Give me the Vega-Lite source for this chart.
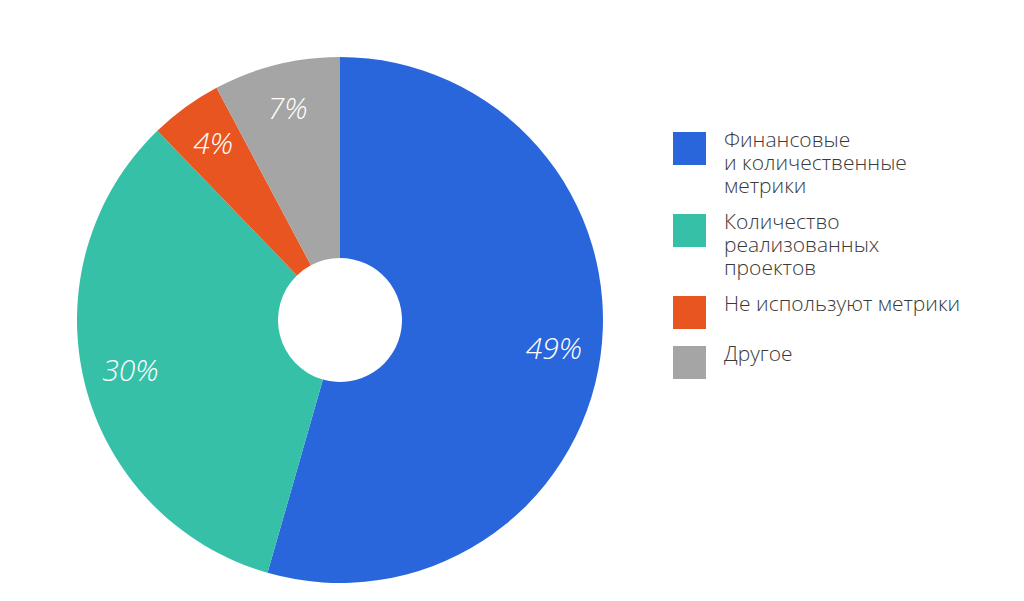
{
  "$schema": "https://vega.github.io/schema/vega-lite/v6.json",
  "autosize": "none",
  "width": 680,
  "height": 562,
  "padding": {"left": 0, "top": 39, "right": 344, "bottom": 0},
  "background": "white",
  "data": {
    "values": [
      {"category": "Финансовые|и количественные|метрики", "value": 49, "label": "49%", "order": 1},
      {"category": "Количество|реализованных|проектов", "value": 30, "label": "30%", "order": 2},
      {"category": "Не используют метрики", "value": 4, "label": "4%", "order": 3},
      {"category": "Другое", "value": 7, "label": "7%", "order": 4}
    ]
  },
  "encoding": {
    "theta": {"field": "value", "type": "quantitative", "stack": true},
    "order": {"field": "order", "type": "quantitative"},
    "color": {
      "field": "category",
      "type": "nominal",
      "scale": {
        "domain": ["Финансовые|и количественные|метрики", "Количество|реализованных|проектов", "Не используют метрики", "Другое"],
        "range": ["#2A66DB", "#36C0A8", "#E85520", "#A4A5A4"]
      },
      "legend": {
        "title": null,
        "orient": "none",
        "legendX": 673,
        "legendY": 93,
        "symbolType": "square",
        "symbolSize": 1089,
        "symbolStrokeWidth": 0,
        "symbolOpacity": 1,
        "labelExpr": "split(datum.label, '|')",
        "labelFont": "Open Sans",
        "labelFontWeight": 300,
        "labelFontSize": 21,
        "labelColor": "#3a3a3a",
        "labelLimit": 400,
        "labelOffset": 18,
        "labelBaseline": "top",
        "rowPadding": 14,
        "labelLineHeight": 23,
        "encode": {
          "labels": {"update": {"dy": {"value": -19}, "lineHeight": {"value": 23}}}
        }
      }
    }
  },
  "layer": [
    {"mark": {"type": "arc", "innerRadius": 62, "outerRadius": 263}},
    {
      "mark": {"type": "text", "radius": 216, "font": "Open Sans", "fontStyle": "italic", "fontWeight": 300, "fontSize": 30},
      "encoding": {"text": {"field": "label"}, "color": {"value": "white"}}
    }
  ]
}
